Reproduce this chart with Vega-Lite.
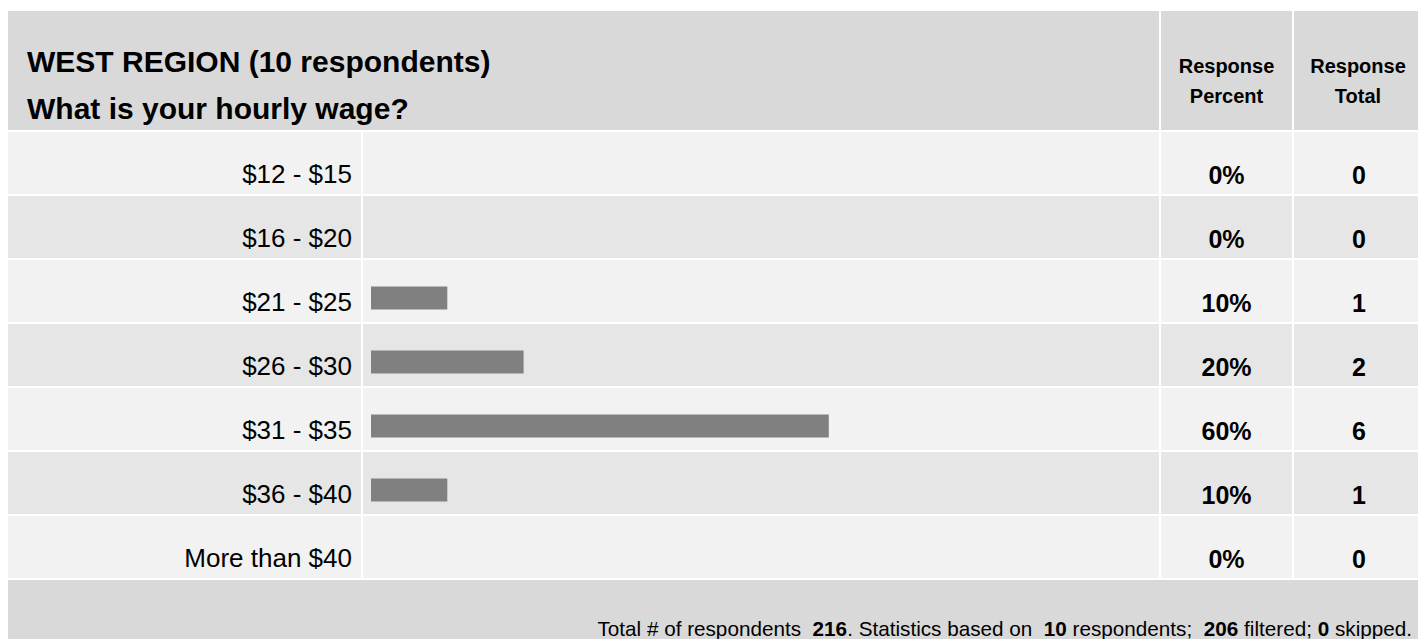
{
  "$schema": "https://vega.github.io/schema/vega-lite/v6.json",
  "background": "white",
  "padding": {"left": 8, "top": 11, "right": 0, "bottom": 0},
  "spacing": 2,
  "config": {
    "view": {"stroke": null},
    "font": "Liberation Sans",
    "text": {"color": "#000000"}
  },
  "datasets": {
    "rows": [
      {"label": "$12 - $15", "percent": 0, "total": 0},
      {"label": "$16 - $20", "percent": 0, "total": 0},
      {"label": "$21 - $25", "percent": 0.1, "total": 1},
      {"label": "$26 - $30", "percent": 0.2, "total": 2},
      {"label": "$31 - $35", "percent": 0.6, "total": 6},
      {"label": "$36 - $40", "percent": 0.1, "total": 1},
      {"label": "More than $40", "percent": 0, "total": 0}
    ],
    "summary": [
      {"heading": "WEST REGION (10 respondents)\nWhat is your hourly wage?", "respondents": 216, "based": 10, "filtered": 206, "skipped": 0}
    ]
  },
  "vconcat": [
    {
      "spacing": 2,
      "hconcat": [
        {
          "width": 1151, "height": 119,
          "view": {"fill": "#d9d9d9", "stroke": null},
          "data": {"name": "summary"},
          "mark": {"type": "text", "align": "left", "baseline": "alphabetic", "lineBreak": "\n", "lineHeight": 47, "fontSize": 30, "fontWeight": "bold", "dx": 19, "dy": 1},
          "encoding": {"x": {"value": 0}, "text": {"field": "heading"}}
        },
        {
          "width": 131, "height": 119,
          "view": {"fill": "#d9d9d9", "stroke": null},
          "data": {"name": "summary"},
          "mark": {"type": "text", "text": ["Response", "Percent"], "align": "center", "baseline": "alphabetic", "lineHeight": 30, "fontSize": 20, "fontWeight": "bold", "dy": 2},
          "encoding": {}
        },
        {
          "width": 124, "height": 119,
          "view": {"fill": "#d9d9d9", "stroke": null},
          "data": {"name": "summary"},
          "mark": {"type": "text", "text": ["Response", "Total"], "align": "center", "baseline": "alphabetic", "lineHeight": 30, "fontSize": 20, "fontWeight": "bold", "dy": 2, "dx": 2},
          "encoding": {}
        }
      ]
    },
    {
      "spacing": 2,
      "hconcat": [
        {
          "width": 353, "height": 446,
          "data": {"name": "rows"},
          "layer": [
            {
              "mark": {"type": "rect", "opacity": 1},
              "encoding": {
                "y": {"field": "label", "type": "nominal", "sort": null, "scale": {"paddingInner": 0.031, "paddingOuter": 0}, "axis": null},
                "x": {"value": 0}, "x2": {"value": "width"},
                "color": {"field": "label", "type": "nominal", "sort": null, "legend": null,
                  "scale": {"domain": ["$12 - $15", "$16 - $20", "$21 - $25", "$26 - $30", "$31 - $35", "$36 - $40", "More than $40"],
                            "range": ["#f2f2f2", "#e6e6e6", "#f2f2f2", "#e6e6e6", "#f2f2f2", "#e6e6e6", "#f2f2f2"]}}
              }
            },
            {
              "mark": {"type": "text", "align": "right", "baseline": "alphabetic", "fontSize": 26, "dx": -9, "dy": 20},
              "encoding": {
                "y": {"field": "label", "type": "nominal", "sort": null, "axis": null},
                "x": {"value": "width"},
                "text": {"field": "label"}
              }
            }
          ]
        },
        {
          "width": 796, "height": 446,
          "data": {"name": "rows"},
          "layer": [
            {
              "mark": {"type": "rect", "opacity": 1},
              "encoding": {
                "y": {"field": "label", "type": "nominal", "sort": null, "scale": {"paddingInner": 0.031, "paddingOuter": 0}, "axis": null},
                "x": {"value": 0}, "x2": {"value": "width"},
                "color": {"field": "label", "type": "nominal", "sort": null, "legend": null,
                  "scale": {"domain": ["$12 - $15", "$16 - $20", "$21 - $25", "$26 - $30", "$31 - $35", "$36 - $40", "More than $40"],
                            "range": ["#f2f2f2", "#e6e6e6", "#f2f2f2", "#e6e6e6", "#f2f2f2", "#e6e6e6", "#f2f2f2"]}}
              }
            },
            {
              "mark": {"type": "bar", "height": 23, "yOffset": 7, "color": "#808080", "opacity": 1},
              "encoding": {
                "y": {"field": "label", "type": "nominal", "sort": null, "axis": null},
                "x": {"field": "percent", "type": "quantitative", "scale": {"domain": [0, 1], "range": [8, 771]}, "axis": null}
              }
            }
          ]
        },
        {
          "width": 131, "height": 446,
          "data": {"name": "rows"},
          "layer": [
            {
              "mark": {"type": "rect", "opacity": 1},
              "encoding": {
                "y": {"field": "label", "type": "nominal", "sort": null, "scale": {"paddingInner": 0.031, "paddingOuter": 0}, "axis": null},
                "x": {"value": 0}, "x2": {"value": "width"},
                "color": {"field": "label", "type": "nominal", "sort": null, "legend": null,
                  "scale": {"domain": ["$12 - $15", "$16 - $20", "$21 - $25", "$26 - $30", "$31 - $35", "$36 - $40", "More than $40"],
                            "range": ["#f2f2f2", "#e6e6e6", "#f2f2f2", "#e6e6e6", "#f2f2f2", "#e6e6e6", "#f2f2f2"]}}
              }
            },
            {
              "mark": {"type": "text", "align": "center", "baseline": "alphabetic", "fontSize": 25, "fontWeight": "bold", "dy": 21},
              "encoding": {
                "y": {"field": "label", "type": "nominal", "sort": null, "axis": null},
                "text": {"field": "percent", "type": "quantitative", "format": ".0%"}
              }
            }
          ]
        },
        {
          "width": 124, "height": 446,
          "data": {"name": "rows"},
          "layer": [
            {
              "mark": {"type": "rect", "opacity": 1},
              "encoding": {
                "y": {"field": "label", "type": "nominal", "sort": null, "scale": {"paddingInner": 0.031, "paddingOuter": 0}, "axis": null},
                "x": {"value": 0}, "x2": {"value": "width"},
                "color": {"field": "label", "type": "nominal", "sort": null, "legend": null,
                  "scale": {"domain": ["$12 - $15", "$16 - $20", "$21 - $25", "$26 - $30", "$31 - $35", "$36 - $40", "More than $40"],
                            "range": ["#f2f2f2", "#e6e6e6", "#f2f2f2", "#e6e6e6", "#f2f2f2", "#e6e6e6", "#f2f2f2"]}}
              }
            },
            {
              "mark": {"type": "text", "align": "center", "baseline": "alphabetic", "fontSize": 25, "fontWeight": "bold", "dy": 21, "dx": 3},
              "encoding": {
                "y": {"field": "label", "type": "nominal", "sort": null, "axis": null},
                "text": {"field": "total", "type": "quantitative"}
              }
            }
          ]
        }
      ]
    },
    {
      "width": 1410, "height": 59,
      "view": {"fill": "#d9d9d9", "stroke": null},
      "data": {"name": "summary"},
      "layer": [
        {"mark": {"type": "text", "text": "Total # of respondents", "align": "right", "baseline": "alphabetic", "fontSize": 20.7, "dx": -617, "dy": 26}, "encoding": {"x": {"value": "width"}}},
        {"mark": {"type": "text", "align": "right", "baseline": "alphabetic", "fontSize": 20.7, "fontWeight": "bold", "dx": -571, "dy": 26}, "encoding": {"x": {"value": "width"}, "text": {"field": "respondents"}}},
        {"mark": {"type": "text", "text": ". Statistics based on", "align": "right", "baseline": "alphabetic", "fontSize": 20.7, "dx": -385.7, "dy": 26}, "encoding": {"x": {"value": "width"}}},
        {"mark": {"type": "text", "align": "right", "baseline": "alphabetic", "fontSize": 20.7, "fontWeight": "bold", "dx": -351.2, "dy": 26}, "encoding": {"x": {"value": "width"}, "text": {"field": "based"}}},
        {"mark": {"type": "text", "text": "respondents;", "align": "right", "baseline": "alphabetic", "fontSize": 20.7, "dx": -225.8, "dy": 26}, "encoding": {"x": {"value": "width"}}},
        {"mark": {"type": "text", "align": "right", "baseline": "alphabetic", "fontSize": 20.7, "fontWeight": "bold", "dx": -179.7, "dy": 26}, "encoding": {"x": {"value": "width"}, "text": {"field": "filtered"}}},
        {"mark": {"type": "text", "text": "filtered;", "align": "right", "baseline": "alphabetic", "fontSize": 20.7, "dx": -106.1, "dy": 26}, "encoding": {"x": {"value": "width"}}},
        {"mark": {"type": "text", "align": "right", "baseline": "alphabetic", "fontSize": 20.7, "fontWeight": "bold", "dx": -88.8, "dy": 26}, "encoding": {"x": {"value": "width"}, "text": {"field": "skipped"}}},
        {"mark": {"type": "text", "text": "skipped.", "align": "right", "baseline": "alphabetic", "fontSize": 20.7, "dx": -6, "dy": 26}, "encoding": {"x": {"value": "width"}}}
      ]
    }
  ]
}
